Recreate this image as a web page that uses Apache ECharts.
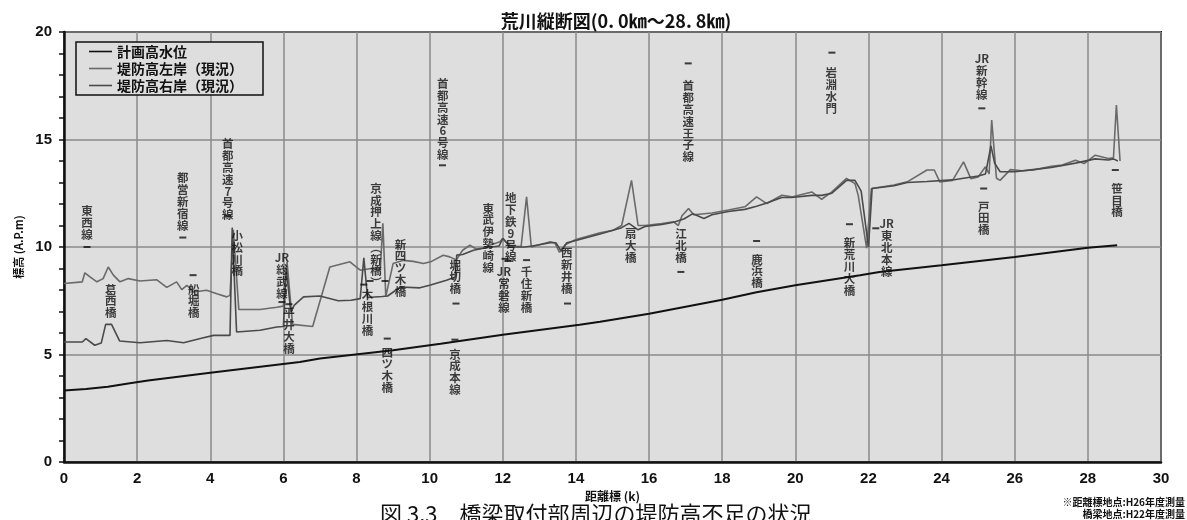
<!DOCTYPE html>
<html>
<head>
<meta charset="utf-8">
<script src="https://cdn.jsdelivr.net/npm/echarts@6/dist/echarts.min.js"></script>
<style>
  html, body { margin: 0; padding: 0; background: #fff; }
  #chart { width: 1187px; height: 520px; }
</style>
</head>
<body>
<div id="chart"></div>
<script>
// 計画高水位 [距離標 km, 標高 A.P.m]
const planHWL = [
  [0, 3.32], [0.6, 3.4], [1.2, 3.5], [1.8, 3.66], [2.3, 3.79], [4, 4.15], [6.45, 4.65],
  [7.0, 4.81], [9, 5.2], [10.3, 5.5], [12, 5.92], [14.1, 6.38], [14.66, 6.52], [16, 6.9],
  [18, 7.55], [18.94, 7.9], [20, 8.22], [21.77, 8.69], [22.3, 8.84], [24, 9.15], [26, 9.54],
  [28, 9.96], [28.8, 10.08]
]

// 堤防高左岸（現況）
const leftBank = [
  [0, 8.3], [0.5, 8.38], [0.57, 8.8], [0.72, 8.6], [0.9, 8.38], [1.07, 8.53], [1.21, 9.07],
  [1.35, 8.69], [1.53, 8.38], [1.76, 8.53], [2.08, 8.42], [2.53, 8.48], [2.81, 8.12], [3.08, 8.38],
  [3.22, 8.02], [3.36, 8.22], [3.54, 7.91], [3.9, 7.99], [4.18, 7.83], [4.45, 7.68], [4.54, 7.75],
  [4.63, 10.8], [4.78, 7.1], [5.36, 7.09], [5.82, 7.2], [6.0, 7.25], [6.1, 9.3], [6.25, 6.4],
  [6.8, 6.3], [7.27, 9.07], [7.82, 9.31], [8.1, 8.92], [8.4, 9.0], [8.65, 8.95], [8.72, 11.1],
  [8.8, 7.7], [9.0, 9.23], [9.28, 9.38], [9.55, 9.33], [9.83, 9.23], [10.05, 9.33], [10.37, 9.62],
  [10.55, 9.54], [10.73, 9.4], [10.9, 9.85], [11.1, 10.08], [11.28, 9.9], [11.46, 9.95],
  [11.64, 10.08], [11.92, 10.24], [12.0, 10.4], [12.2, 10.05], [12.5, 10.02], [12.65, 12.33],
  [12.78, 10.0], [13.3, 10.24], [13.42, 10.2], [13.55, 9.75], [13.7, 10.1], [14.0, 10.35],
  [14.66, 10.66], [15.02, 10.78], [15.25, 11.0], [15.52, 13.1], [15.7, 11.0], [15.89, 11.0],
  [16.35, 11.09], [16.67, 11.17], [16.8, 11.0], [16.9, 11.45], [17.08, 11.79], [17.22, 11.5],
  [17.72, 11.58], [18.17, 11.72], [18.62, 11.87], [18.94, 12.33], [19.22, 12.02], [19.63, 12.41],
  [19.9, 12.33], [20.45, 12.56], [20.72, 12.22], [21.0, 12.56], [21.4, 13.19], [21.63, 12.95],
  [21.72, 12.4], [21.95, 9.95], [22.08, 12.72], [22.7, 12.88], [23.06, 13.03], [23.6, 13.58],
  [23.8, 13.58], [23.95, 13.03], [24.3, 13.1], [24.6, 13.96], [24.8, 13.18], [25.0, 13.26],
  [25.2, 13.73], [25.3, 13.4], [25.37, 15.9], [25.5, 13.2], [25.6, 13.1], [25.88, 13.6],
  [26.2, 13.55], [26.5, 13.58], [27.0, 13.75], [27.3, 13.81], [27.66, 14.04], [27.9, 13.88],
  [28.2, 14.27], [28.56, 14.12], [28.7, 14.15], [28.78, 16.6], [28.88, 14.0]
]

// 堤防高右岸（現況）
const rightBank = [
  [0, 5.58], [0.5, 5.58], [0.6, 5.74], [0.84, 5.43], [1.02, 5.54], [1.14, 6.4], [1.3, 6.4],
  [1.52, 5.63], [2.08, 5.55], [2.81, 5.65], [3.27, 5.55], [3.73, 5.74], [4.09, 5.89], [4.54, 5.89],
  [4.6, 10.9], [4.72, 6.05], [5.36, 6.13], [5.82, 6.28], [6.0, 6.3], [6.08, 9.0], [6.2, 7.0],
  [6.3, 7.3], [6.55, 7.68], [7.0, 7.72], [7.5, 7.5], [7.85, 7.52], [8.1, 7.6], [8.2, 9.5],
  [8.3, 7.65], [8.7, 7.7], [8.85, 7.72], [9.2, 8.14], [9.73, 8.1], [10.0, 8.22], [10.46, 8.45],
  [10.7, 8.6], [10.74, 9.62], [10.9, 9.65], [11.2, 9.85], [11.5, 9.95], [11.9, 10.05], [12.0, 10.4],
  [12.2, 10.0], [12.6, 10.0], [12.8, 10.05], [13.3, 10.2], [13.45, 10.2], [13.6, 9.8], [13.75, 10.2],
  [14.0, 10.3], [14.66, 10.6], [15.25, 10.9], [15.45, 11.1], [15.7, 10.8], [15.89, 10.95],
  [16.35, 11.05], [16.67, 11.15], [16.95, 11.3], [17.2, 11.55], [17.5, 11.33], [17.72, 11.5],
  [18.17, 11.65], [18.62, 11.75], [18.94, 11.9], [19.22, 12.05], [19.63, 12.3], [19.9, 12.3],
  [20.45, 12.4], [20.72, 12.4], [21.0, 12.5], [21.4, 13.1], [21.63, 13.1], [21.8, 12.6],
  [22.0, 10.0], [22.1, 12.72], [22.7, 12.85], [23.06, 13.0], [23.6, 13.05], [24.3, 13.12],
  [24.6, 13.2], [25.0, 13.3], [25.2, 13.4], [25.35, 14.7], [25.45, 13.9], [25.6, 13.5],
  [26.0, 13.5], [26.5, 13.6], [27.0, 13.7], [27.66, 13.9], [28.2, 14.1], [28.56, 14.05],
  [28.7, 14.1], [28.82, 14.0]
]

// 橋梁・施設名 [名称, 距離標 km, 文字上端の標高]
const structNames = [
  ['東西線', 0.63, 11.95], ['葛西橋', 1.28, 8.31], ['都営新宿線', 3.25, 13.48], ['船堀橋', 3.55, 8.31],
  ['首都高速7号線', 4.48, 15.06], ['小松川橋', 4.74, 10.8], ['JR総武線', 5.96, 9.76], ['平井大橋', 6.15, 7.2],
  ['京成押上線︵新橋︶', 8.53, 13.0], ['木根川橋', 8.3, 8.04], ['四ツ木橋', 8.84, 5.38], ['新四ツ木橋', 9.2, 10.4],
  ['首都高速6号線', 10.36, 17.86], ['堀切橋', 10.7, 9.43], ['京成本線', 10.69, 5.29], ['東武伊勢崎線', 11.6, 12.08],
  ['地下鉄9号線', 12.22, 12.55], ['JR常磐線', 12.03, 9.11], ['千住新橋', 12.65, 9.11], ['西新井橋', 13.75, 10.0],
  ['扇大橋', 15.5, 10.88], ['首都高速王子線', 17.07, 17.76], ['江北橋', 16.87, 10.88], ['鹿浜橋', 18.95, 9.71],
  ['岩淵水門', 20.98, 18.37], ['新荒川大橋', 21.48, 10.46], ['JR東北本線', 22.5, 11.34], ['JR新幹線', 25.1, 19.02],
  ['戸田橋', 25.15, 12.17], ['笹目橋', 28.8, 13.0]
]

// 橋梁地点の標高マーク [距離標 km, 標高]
const structMarks = [
  [0.63, 10.0], [3.25, 10.44], [3.53, 8.69], [4.48, 11.45], [5.96, 7.44], [6.15, 7.34],
  [8.2, 8.25], [8.37, 8.42], [8.78, 8.42], [8.84, 5.74], [10.35, 13.8], [10.72, 7.37],
  [10.69, 5.69], [12.06, 9.45], [12.14, 9.35], [12.65, 9.39], [13.77, 7.37], [17.07, 18.54],
  [16.87, 8.84], [18.94, 10.28], [21.0, 19.04], [21.48, 11.06], [22.2, 10.87], [25.1, 16.45],
  [25.15, 12.72], [28.75, 13.58]
]

const xTicks = { min: 0, max: 30, interval: 2 }
const yTicks = { min: 0, max: 20, interval: 5 }

const jp = '"Noto Sans CJK JP", "Liberation Sans", sans-serif'
const num = '"Liberation Sans", Arial, sans-serif'

// 縦書き: 1文字ずつ改行（"JR" はひとまとまり）
const vertical = (s) => s.match(/JR|./g).join('\n')

const chart = echarts.init(document.getElementById('chart'))

chart.setOption({
  animation: false,
  backgroundColor: '#ffffff',
  title: {
    text: '荒川縦断図(0. 0㎞～28. 8㎞)',
    left: 611,
    textAlign: 'center',
    top: 7,
    textStyle: { fontFamily: jp, fontSize: 18, fontWeight: 'bold', color: '#111' }
  },
  legend: {
    data: ['計画高水位', '堤防高左岸（現況）', '堤防高右岸（現況）'],
    orient: 'vertical',
    left: 76,
    top: 42,
    icon: 'rect',
    itemWidth: 23,
    itemHeight: 1.6,
    itemGap: 0,
    padding: [1, 20, 1, 13],
    borderColor: '#111',
    borderWidth: 1.5,
    backgroundColor: '#dedede',
    textStyle: { fontFamily: jp, fontSize: 14, lineHeight: 17, fontWeight: 'bold', color: '#111' }
  },
  grid: { left: 64, right: 26, top: 32, bottom: 58, show: true, backgroundColor: '#dedede', borderColor: '#111', borderWidth: 2 },
  xAxis: {
    type: 'value',
    min: xTicks.min,
    max: xTicks.max,
    interval: xTicks.interval,
    name: '距離標 (k)',
    nameLocation: 'middle',
    nameGap: 27,
    nameTextStyle: { fontFamily: jp, fontSize: 12, fontWeight: 'bold', color: '#111' },
    axisLine: { lineStyle: { color: '#111', width: 2.5 } },
    axisTick: { show: false },
    axisLabel: { fontFamily: num, fontSize: 15, fontWeight: 'bold', color: '#111', margin: 9 },
    splitLine: { lineStyle: { color: '#8a8a8a', width: 1.5 } }
  },
  yAxis: {
    type: 'value',
    min: yTicks.min,
    max: yTicks.max,
    interval: yTicks.interval,
    name: '標高 (A.P.m)',
    nameLocation: 'middle',
    nameGap: 39,
    nameRotate: 90,
    nameTextStyle: { fontFamily: jp, fontSize: 11, fontWeight: 'bold', color: '#111' },
    axisLine: { show: true, lineStyle: { color: '#111', width: 2.5 } },
    axisTick: { show: true, inside: false, length: 5, lineStyle: { color: '#111', width: 1.5 } },
    minorTick: { show: true, splitNumber: 5, length: 5, lineStyle: { color: '#111', width: 1.5 } },
    axisLabel: { fontFamily: num, fontSize: 15, fontWeight: 'bold', color: '#111', margin: 12 },
    splitLine: { lineStyle: { color: '#8a8a8a', width: 1.5 } }
  },
  series: [
    {
      name: '計画高水位',
      type: 'line',
      data: planHWL,
      symbol: 'none',
      lineStyle: { color: '#111', width: 2 },
      itemStyle: { color: '#111' },
      z: 4
    },
    {
      name: '堤防高左岸（現況）',
      type: 'line',
      data: leftBank,
      symbol: 'none',
      lineStyle: { color: '#6a6a6a', width: 1.6 },
      itemStyle: { color: '#6a6a6a' },
      z: 3
    },
    {
      name: '堤防高右岸（現況）',
      type: 'line',
      data: rightBank,
      symbol: 'none',
      lineStyle: { color: '#4a4a4a', width: 1.6 },
      itemStyle: { color: '#4a4a4a' },
      z: 3
    },
    {
      type: 'scatter',
      data: structMarks,
      symbol: 'rect',
      symbolSize: [7, 2],
      itemStyle: { color: '#111' },
      silent: true,
      z: 5
    },
    {
      type: 'scatter',
      data: structNames.map((d) => ({ name: d[0], value: [d[1], d[2]] })),
      symbolSize: 0,
      silent: true,
      z: 6,
      label: {
        show: true,
        position: 'bottom',
        distance: 0,
        formatter: (p) => vertical(p.name),
        fontFamily: jp,
        fontSize: 11.5,
        lineHeight: 11.8,
        fontWeight: 'bold',
        color: '#111',
        align: 'center'
      }
    }
  ],
  graphic: [
    {
      type: 'text',
      right: 2,
      top: 497,
      style: {
        text: '※距離標地点:H26年度測量',
        font: 'bold 10px "Noto Sans CJK JP", sans-serif',
        fill: '#111'
      }
    },
    {
      type: 'text',
      right: 2,
      top: 509,
      style: {
        text: '橋梁地点:H22年度測量',
        font: 'bold 10px "Noto Sans CJK JP", sans-serif',
        fill: '#111'
      }
    },
    {
      type: 'text',
      left: 380,
      top: 503,
      style: {
        text: '図 3.3　橋梁取付部周辺の堤防高不足の状況',
        font: '22px "Noto Sans CJK JP", sans-serif',
        fill: '#111'
      }
    }
  ]
})
</script>
</body>
</html>
